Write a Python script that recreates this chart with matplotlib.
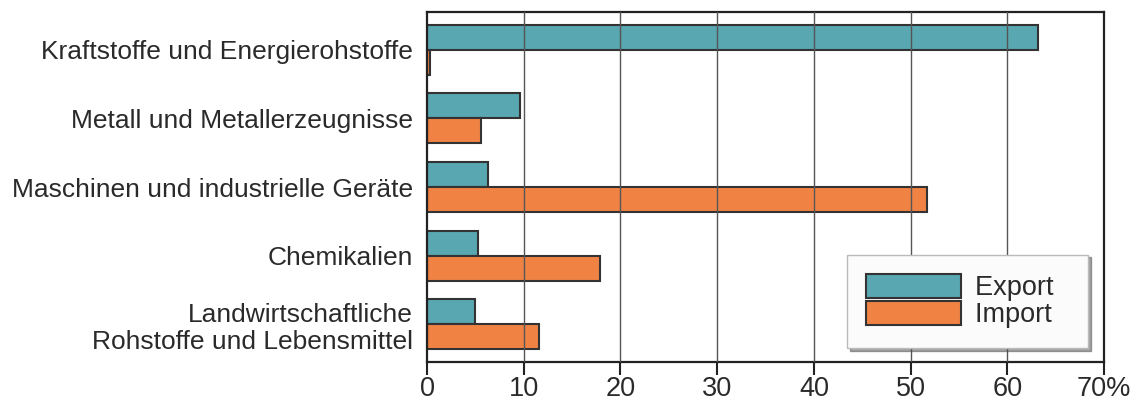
import matplotlib.pyplot as plt
import numpy as np

plt.rcParams['font.family'] = ['Liberation Sans', 'DejaVu Sans']

categories = ['Kraftstoffe und Energierohstoffe',
              'Metall und Metallerzeugnisse',
              'Maschinen und industrielle Geräte',
              'Chemikalien',
              'Landwirtschaftliche\nRohstoffe und Lebensmittel']
export_vals = [63.2, 9.6, 6.3, 5.3, 5.0]
import_vals = [0.3, 5.6, 51.7, 17.9, 11.6]
xticks = [0, 10, 20, 30, 40, 50, 60, 70]
xtick_labels = ['0', '10', '20', '30', '40', '50', '60', '70%']

teal = '#58a7b1'
orange = '#f08244'
edge = '#333333'
txt = '#2a2a2a'
fs = 19

fig = plt.figure(figsize=(11.48, 4.0), dpi=100)
ax = fig.add_axes([0.372, 0.095, 0.5897, 0.875])

y = np.arange(len(categories))
h = 0.365
ax.barh(y - h / 2, export_vals, height=h, color=teal, edgecolor=edge, linewidth=1.5, label='Export  ', zorder=2)
ax.barh(y + h / 2, import_vals, height=h, color=orange, edgecolor=edge, linewidth=1.5, label='Import  ', zorder=2)

for xv in xticks[1:-1]:
    ax.axvline(xv, color='#555555', linewidth=1.0, zorder=3)

ax.set_ylim(len(categories) - 0.45, -0.55)
ax.set_xlim(0, 70)
ax.set_yticks(y)
ax.set_yticklabels(categories, fontsize=fs, color=txt, ha='right', linespacing=1.15)
ax.set_xticks(xticks)
ax.set_xticklabels(xtick_labels, fontsize=fs + 0.5, color=txt)
ax.tick_params(axis='y', length=0, pad=10)
ax.tick_params(axis='x', length=9, width=1.5, direction='out', pad=1, color='#222222')

for s in ax.spines.values():
    s.set_color('#222222')
    s.set_linewidth(1.6)

leg = ax.legend(loc='lower right', bbox_to_anchor=(0.976, 0.04), fontsize=fs + 0.5,
                handlelength=3.5, handleheight=0.98, labelspacing=0.0,
                borderpad=0.72, handletextpad=0.5, borderaxespad=0,
                fancybox=False, shadow=True, framealpha=1,
                edgecolor='#bbbbbb', facecolor='#fbfbfb')
leg.set_zorder(5)
for t in leg.get_texts():
    t.set_color(txt)

fig.savefig('out.png')
